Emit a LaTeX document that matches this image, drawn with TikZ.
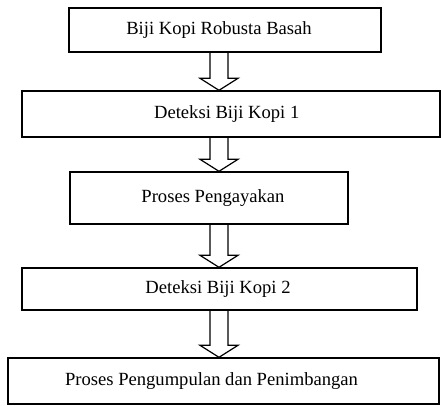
\documentclass[tikz,border=0pt]{standalone}
\usepackage{fontspec}
\setmainfont{Liberation Serif}
\usetikzlibrary{calc}
\tikzset{
  box/.style={draw=black, line width=1.4pt, fill=white, inner sep=0pt},
  txt/.style={font=\fontsize{18.6}{22}\selectfont, inner sep=0pt},
  blockarrow/.style={draw=black, line width=1.2pt, line join=miter},
}
\newcommand\blockarrow[2]{%
  \draw[blockarrow] ($(#1.south -| axis)+(-9,0)$) -- ($(#2.north -| axis)+(-9,12)$)
    -- ($(#2.north -| axis)+(-19,12)$) -- (#2.north -| axis)
    -- ($(#2.north -| axis)+(19,12)$) -- ($(#2.north -| axis)+(9,12)$)
    -- ($(#1.south -| axis)+(9,0)$);}
\begin{document}
\begin{tikzpicture}[x=1pt,y=1pt]
\useasboundingbox[fill=white] (0,0) rectangle (441,-405);
\coordinate (axis) at (219,0);
\node[box, minimum width=312pt, minimum height=44pt,
  label={[txt,xshift=-6pt]center:Biji Kopi Robusta Basah}] (b1) at (225,-30) {};
\node[box, minimum width=418pt, minimum height=46pt,
  label={[txt,xshift=-4.3pt]center:Deteksi Biji Kopi 1}] (b2) at (231,-114) {};
\node[box, minimum width=278pt, minimum height=52pt,
  label={[txt,xshift=4pt]center:Proses Pengayakan}] (b3) at (209,-198) {};
\node[box, minimum width=395pt, minimum height=42pt,
  label={[txt,xshift=-1.5pt]center:Deteksi Biji Kopi 2}] (b4) at (219.5,-289) {};
\node[box, minimum width=431pt, minimum height=46pt,
  label={[txt,xshift=-12pt]center:Proses Pengumpulan dan Penimbangan}] (b5) at (223.5,-381) {};
\blockarrow{b1}{b2}
\blockarrow{b2}{b3}
\blockarrow{b3}{b4}
\blockarrow{b4}{b5}
\end{tikzpicture}
\end{document}
